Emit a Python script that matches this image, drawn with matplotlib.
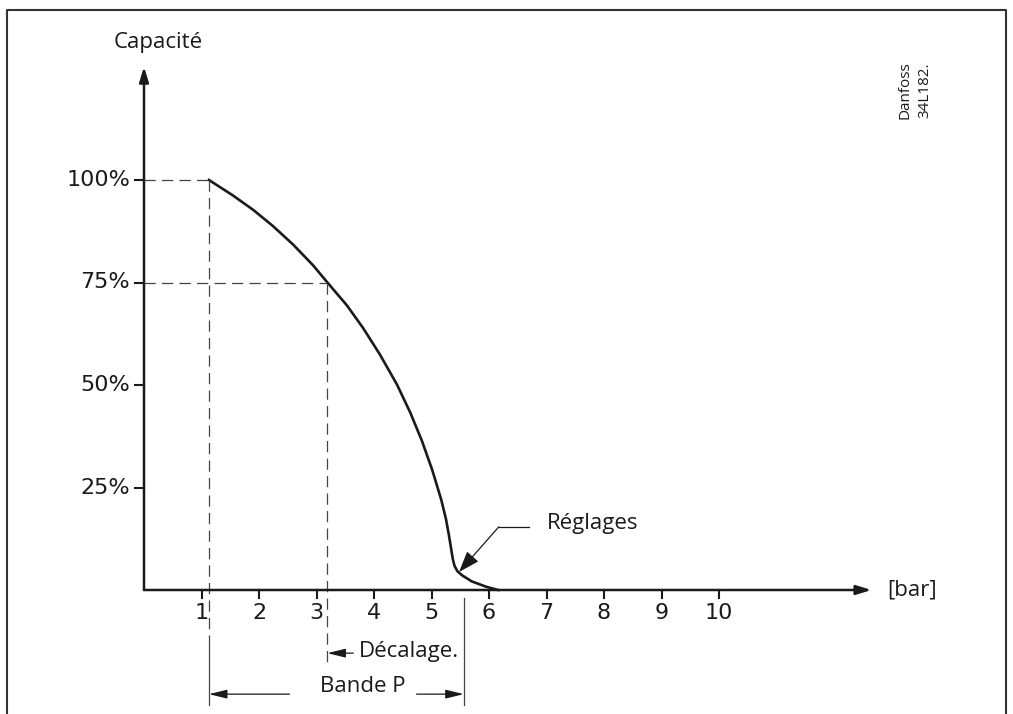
import numpy as np
import matplotlib
matplotlib.use('Agg')
import matplotlib.pyplot as plt

# capacity curve: pressure [bar] vs capacity [%]
pressure = [1.13, 1.55, 1.90, 2.24, 2.59, 2.94, 3.19, 3.53, 3.81, 4.10, 4.40,
            4.63, 4.83, 5.01, 5.17, 5.25, 5.30, 5.34, 5.37, 5.40, 5.45, 5.53,
            5.70, 5.95, 6.16]
capacity = [100, 96.2, 92.7, 88.8, 84.3, 79.2, 75, 69.4, 63.9, 57.5, 50.1,
            43.3, 36.5, 29.4, 22.0, 17.4, 13.6, 10.2, 7.6, 5.9, 4.6, 3.6,
            2.1, 0.8, 0]

x_ticks = [1, 2, 3, 4, 5, 6, 7, 8, 9, 10]
y_ticks = [25, 50, 75, 100]
y_labels = ['25%', '50%', '75%', '100%']

p_start = 1.13    # start of P band (100 %)
p_offset = 3.19   # 75 % point
p_end = 5.56      # setting point

ink = '#1a1a1a'
grey = '#444444'

fig = plt.figure(figsize=(10.13, 7.14), dpi=100)
ax = fig.add_axes([0, 0, 1, 1])
ax.set_xlim(-144 / 57.5, 869 / 57.5)
ax.set_ylim(-124 / 4.1, 590 / 4.1)
ax.axis('off')

# outer frame (open at the bottom)
ax.plot([0.007, 0.007, 0.993, 0.993], [0.0, 0.986, 0.986, 0.0],
        transform=ax.transAxes, color='#333333', lw=1.5, clip_on=False)

# axes with arrow heads
arrow = dict(arrowstyle='-|>,head_length=0.9,head_width=0.28', lw=1.8,
             color=ink, shrinkA=0, shrinkB=0)
ax.annotate('', xy=(0, 127.6), xytext=(0, 0), arrowprops=arrow)
ax.annotate('', xy=(12.65, 0), xytext=(0, 0), arrowprops=arrow)

for t in x_ticks:
    ax.plot([t, t], [0, -2], color=ink, lw=1.5)
    ax.text(t, -5.6, str(t), ha='center', va='center', fontsize=16,
            family='DejaVu Sans', color=ink)
for t, lab in zip(y_ticks, y_labels):
    ax.plot([-0.16, 0], [t, t], color=ink, lw=1.5)
    ax.text(-0.24, t, lab, ha='right', va='center', fontsize=16,
            family='DejaVu Sans', color=ink)

ax.text(0.24, 133.5, 'Capacité', ha='center', va='center', fontsize=16,
        family='Open Sans', color=ink)
ax.text(12.92, 0, '[bar]', ha='left', va='center', fontsize=16,
        family='Open Sans', color=ink)

# curve
ax.plot(pressure, capacity, color=ink, lw=1.9, solid_joinstyle='round')

# dashed helper lines
dash = dict(color=grey, lw=0.9, dashes=(9, 5))
ax.plot([0, p_start], [100, 100], **dash)
ax.plot([0, p_offset], [75, 75], **dash)
ax.plot([p_start, p_start], [100, -11.5], **dash)
ax.plot([p_start, p_start], [-11.5, -28], color=grey, lw=0.9)
ax.plot([p_offset, p_offset], [75, -18], **dash)
ax.plot([p_end, p_end], [-2, -28], color=grey, lw=0.9)

small_arrow = dict(arrowstyle='-|>,head_length=1.1,head_width=0.27', lw=0.9,
                   color=ink, shrinkA=0, shrinkB=0)
ax.annotate('', xy=(p_offset, -15.4), xytext=(3.64, -15.4), arrowprops=small_arrow)
ax.text(3.74, -15.0, 'Décalage.', ha='left', va='center', fontsize=16,
        family='Open Sans', color=ink)

ax.annotate('', xy=(p_start, -25.4), xytext=(2.53, -25.4), arrowprops=small_arrow)
ax.annotate('', xy=(p_end, -25.4), xytext=(4.74, -25.4), arrowprops=small_arrow)
ax.text(3.81, -23.6, 'Bande P', ha='center', va='center', fontsize=16,
        family='Open Sans', color=ink)

# Réglages leader
ax.plot([6.70, 6.17], [15.4, 15.4], color=ink, lw=0.9)
ax.annotate('', xy=(5.48, 4.4), xytext=(6.17, 15.4),
            arrowprops=dict(arrowstyle='-|>,head_length=1.3,head_width=0.47',
                            lw=0.9, color=ink, shrinkA=0, shrinkB=0))
ax.text(7.0, 16.3, 'Réglages', ha='left', va='center', fontsize=16,
        family='Open Sans', color=ink)

# drawing reference
ax.text(13.24, 122, 'Danfoss', rotation=90, ha='center', va='center',
        fontsize=11, family='Open Sans', color=ink)
ax.text(13.58, 122, '34L182.', rotation=90, ha='center', va='center',
        fontsize=11, family='Open Sans', color=ink)

fig.savefig('out.png', dpi=100)
